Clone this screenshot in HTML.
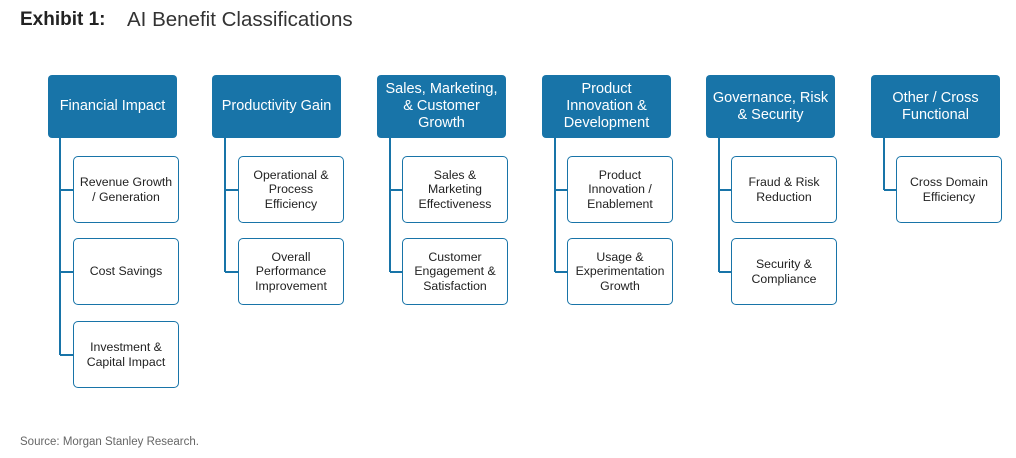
<!DOCTYPE html>
<html><head><style>
body{margin:0;width:1016px;height:458px;background:#fff;font-family:"Liberation Sans",sans-serif;position:relative;overflow:hidden}
.t{position:absolute;top:9px;font-size:19px;color:#222}
.h{position:absolute;top:75px;width:129px;height:63px;background:#1874a8;border-radius:4px;color:#fff;font-size:14.5px;display:flex;align-items:center;justify-content:center;text-align:center;line-height:17px}
.c{position:absolute;width:104px;height:65px;border:1.5px solid #1874a8;border-radius:5px;background:#fff;color:#222;font-size:12.3px;display:flex;align-items:center;justify-content:center;text-align:center;line-height:14.5px}
.v{position:absolute;top:138px;width:2px;background:#1874a8}
.hl{position:absolute;height:2px;width:13px;background:#1874a8}
</style></head><body>
<div class="t" style="left:20px;font-weight:bold">Exhibit 1:</div>
<div class="t" style="left:127px;font-size:20.5px;top:8px;color:#333">AI Benefit Classifications</div>

<div class="h" style="left:48px">Financial Impact</div>
<div class="v" style="left:59px;height:217px"></div>
<div class="hl" style="left:60px;top:189px"></div><div class="hl" style="left:60px;top:271px"></div><div class="hl" style="left:60px;top:354px"></div>
<div class="c" style="left:73px;top:156px">Revenue Growth<br>/ Generation</div>
<div class="c" style="left:73px;top:238px">Cost Savings</div>
<div class="c" style="left:73px;top:321px">Investment &amp;<br>Capital Impact</div>

<div class="h" style="left:212px">Productivity Gain</div>
<div class="v" style="left:224px;height:134px"></div>
<div class="hl" style="left:225px;top:189px"></div><div class="hl" style="left:225px;top:271px"></div>
<div class="c" style="left:238px;top:156px">Operational &amp;<br>Process<br>Efficiency</div>
<div class="c" style="left:238px;top:238px">Overall<br>Performance<br>Improvement</div>

<div class="h" style="left:377px">Sales, Marketing,<br>&amp; Customer<br>Growth</div>
<div class="v" style="left:389px;height:134px"></div>
<div class="hl" style="left:390px;top:189px"></div><div class="hl" style="left:390px;top:271px"></div>
<div class="c" style="left:402px;top:156px">Sales &amp;<br>Marketing<br>Effectiveness</div>
<div class="c" style="left:402px;top:238px">Customer<br>Engagement &amp;<br>Satisfaction</div>

<div class="h" style="left:542px">Product<br>Innovation &amp;<br>Development</div>
<div class="v" style="left:554px;height:134px"></div>
<div class="hl" style="left:555px;top:189px"></div><div class="hl" style="left:555px;top:271px"></div>
<div class="c" style="left:567px;top:156px">Product<br>Innovation /<br>Enablement</div>
<div class="c" style="left:567px;top:238px">Usage &amp;<br>Experimentation<br>Growth</div>

<div class="h" style="left:706px">Governance, Risk<br>&amp; Security</div>
<div class="v" style="left:718px;height:134px"></div>
<div class="hl" style="left:719px;top:189px"></div><div class="hl" style="left:719px;top:271px"></div>
<div class="c" style="left:731px;top:156px">Fraud &amp; Risk<br>Reduction</div>
<div class="c" style="left:731px;top:238px">Security &amp;<br>Compliance</div>

<div class="h" style="left:871px">Other / Cross<br>Functional</div>
<div class="v" style="left:883px;height:52px"></div>
<div class="hl" style="left:884px;top:189px"></div>
<div class="c" style="left:896px;top:156px">Cross Domain<br>Efficiency</div>

<div style="position:absolute;left:20px;top:436px;font-size:11.5px;color:#666">Source: Morgan Stanley Research.</div>
</body></html>
